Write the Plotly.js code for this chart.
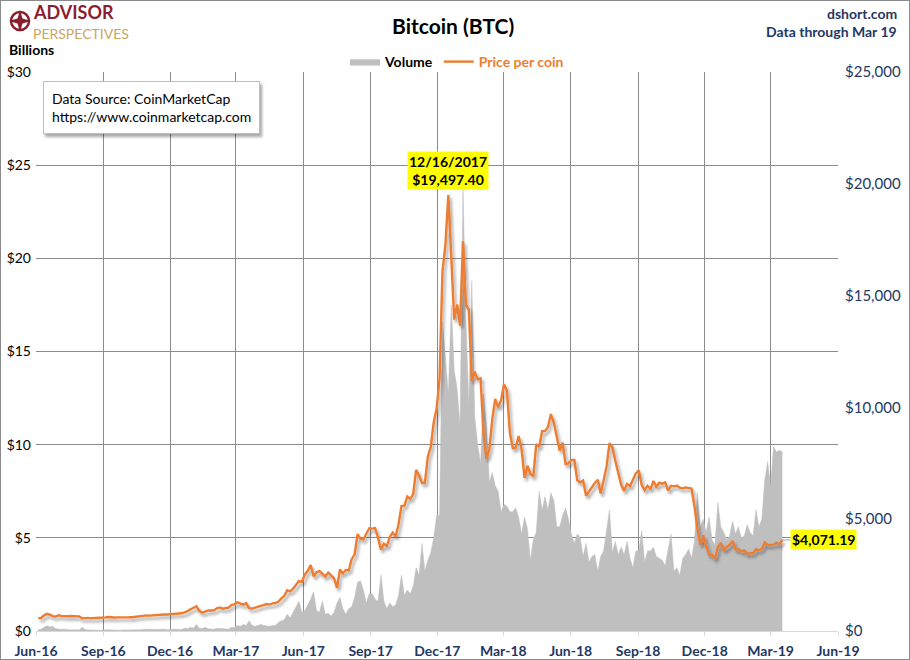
<!DOCTYPE html>
<html><head><meta charset="utf-8">
<script src="https://cdn.plot.ly/plotly-3.0.1.min.js"></script>
<style>
html,body{margin:0;padding:0;background:#fff;}
#wrap{position:relative;width:910px;height:660px;}
#chart{width:910px;height:660px;}
#frame{position:absolute;left:0;top:0;width:908px;height:658px;border:1px solid #8a8a8a;pointer-events:none;}
</style></head><body>
<div id="wrap"><div id="chart"></div><div id="frame"></div></div>
<script>
// ---- data (sampled every 4 days from startDate) ----
const startDate = '2016-06-04';
const stepDays = 4;
const pricePerCoin = [
 574,581,700,766,735,665,647,703,670,650,
 657,672,665,655,655,566,590,587,567,575,
 583,570,574,610,626,608,607,609,602,604,
 610,612,617,640,637,657,678,698,688,703,
 715,711,751,741,735,753,752,772,780,791,
 834,891,973,1021,1100,903,818,870,922,915,
 920,1011,1055,999,1009,1050,1172,1193,1283,1235,
 1180,1245,1020,1000,1046,1080,1141,1182,1207,1180,
 1238,1250,1317,1455,1573,1820,1772,1890,2043,2239,
 2191,2518,2691,2955,2445,2619,2682,2565,2434,2610,
 2502,2354,1929,2748,2575,2726,2710,3213,3420,4325,
 4133,4088,4352,4594,4579,4599,4162,3637,3907,3793,
 4208,4404,4225,4777,5591,5605,6011,5904,6131,7208,
 6955,6618,6636,7790,8233,9330,9946,11291,16099,17276,
 19497.4,16624,13925,14606,13657,17430,14595,14360,11180,11600,
 11256,11296,8830,7700,8130,9488,10384,10005,10326,11042,
 10730,8866,8174,8200,8720,8130,6845,7390,7023,6920,
 8358,8240,8940,8940,9120,9700,9325,8700,8070,8420,
 7470,7500,7650,7650,6740,6640,6730,6050,6250,6390,
 6620,6760,6150,6740,7350,8400,8220,7600,7040,6540,
 6260,6580,6480,6730,7050,7190,6530,6300,6500,6340,
 6710,6450,6630,6590,6650,6280,6490,6470,6500,6410,
 6380,6420,6410,6370,5590,4590,3850,4280,3820,3420,
 3410,3230,3750,3940,3630,3740,3860,4030,3660,3670,
 3560,3600,3450,3490,3470,3660,3610,3670,3960,3840,
 3860,3860,3950,3870,4071.19
];
const volumeBillions = [
 0.08,0.1,0.2,0.28,0.22,0.25,0.12,0.1,0.08,0.1,
 0.07,0.06,0.07,0.08,0.06,0.2,0.08,0.06,0.05,0.05,
 0.06,0.04,0.06,0.08,0.07,0.06,0.05,0.06,0.04,0.06,
 0.05,0.06,0.06,0.07,0.06,0.07,0.09,0.1,0.12,0.09,
 0.08,0.1,0.08,0.1,0.07,0.1,0.1,0.09,0.1,0.08,
 0.15,0.12,0.2,0.15,0.35,0.15,0.13,0.2,0.12,0.11,
 0.09,0.15,0.14,0.12,0.11,0.1,0.2,0.18,0.3,0.25,
 0.35,0.3,0.55,0.3,0.25,0.3,0.35,0.3,0.28,0.25,
 0.3,0.3,0.45,0.55,0.6,0.9,0.7,1.0,1.3,1.6,
 1.0,1.1,1.4,1.7,2.1,1.1,1.0,1.6,0.9,0.95,
 0.8,1.0,1.5,1.8,1.2,0.9,1.2,1.3,1.8,2.6,
 2.7,2.2,1.5,2.0,2.0,1.7,1.6,3.0,1.6,1.2,
 1.5,1.3,1.4,1.9,3.0,1.9,2.2,2.0,2.4,3.4,
 3.0,4.7,3.2,3.8,4.2,5.0,6.2,6.2,16.6,14.7,
 12.7,17.5,14.0,13.0,11.0,23.8,16.7,12.1,18.8,11.5,
 10.0,9.0,12.7,11.0,8.0,8.5,7.8,7.5,6.4,6.8,
 6.7,6.4,6.4,6.6,6.1,5.2,6.1,5.5,3.8,4.9,
 5.3,7.5,6.5,7.2,6.5,7.4,7.0,5.6,5.6,6.2,
 6.6,6.0,5.2,4.7,5.2,5.0,4.0,4.7,3.7,4.0,
 4.1,3.2,4.0,4.3,5.4,6.5,4.2,4.8,4.1,4.5,
 4.1,4.8,3.9,3.4,4.3,4.3,5.4,3.7,4.3,4.3,
 4.5,4.0,3.9,3.8,3.5,4.3,5.2,3.2,3.4,3.0,
 3.9,4.1,4.4,3.9,4.8,7.4,5.6,6.0,5.3,6.1,
 4.9,4.6,6.9,5.6,5.3,4.9,5.1,5.9,5.2,5.6,
 5.0,5.1,5.7,5.3,5.1,6.5,5.6,6.0,8.1,9.1,
 7.7,9.9,9.6,9.7,9.6
];
const xRange = ['2016-06-01','2019-06-01'];
const volumeTicks = [0,5,10,15,20,25,30];
const priceTicks = [0,5000,10000,15000,20000,25000];

// ---- build ----
const t0 = Date.parse(startDate + 'T00:00:00Z');
const dates = pricePerCoin.map((_, i) => new Date(t0 + i*stepDays*86400000).toISOString().slice(0,10));
let peakIdx = 0;
pricePerCoin.forEach((v,i)=>{ if (v > pricePerCoin[peakIdx]) peakIdx = i; });
const lastIdx = pricePerCoin.length - 1;
const fmtMoney = v => '$' + v.toLocaleString('en-US',{minimumFractionDigits:2, maximumFractionDigits:2});
const fmtDate = s => { const [y,m,d] = s.split('-'); return (+m) + '/' + (+d) + '/' + y; };

const FONT = 'Lato, "Open Sans", sans-serif';
const NAVY = '#1F3864';
const ORANGE = '#ED7D31';
// pixel -> paper helpers for decorations outside plot
const L = 36, R = 838, T = 72, B = 631;
const px = x => (x - L) / (R - L);
const py = y => (B - y) / (B - T);

const traces = [
  { x: dates, y: volumeBillions, type: 'scatter', mode: 'lines', fill: 'tozeroy',
    fillcolor: '#BFBFBF', line: {color: '#BFBFBF', width: 0.5}, name: '<b>Volume</b>',
    yaxis: 'y', hoverinfo: 'skip' },
  { x: dates, y: pricePerCoin, type: 'scatter', mode: 'lines',
    line: {color: ORANGE, width: 2.4}, name: '<span style="color:' + ORANGE + '"><b>Price per coin</b></span>',
    yaxis: 'y2', hoverinfo: 'skip' }
];

const starPts = [[20,10],[22.5,18.5],[31,21],[22.5,23.5],[20,32],[17.5,23.5],[9,21],[17.5,18.5]];
const starPath = 'M' + starPts.map(p => px(p[0]) + ',' + py(p[1])).join('L') + 'Z';

const layout = {
  width: 910, height: 660,
  margin: {l: L, r: 910 - R, t: T, b: 660 - B},
  paper_bgcolor: '#fff', plot_bgcolor: '#fff',
  font: {family: FONT, size: 13, color: '#000'},
  showlegend: true,
  legend: {orientation: 'h', x: px(457), y: py(62), xanchor: 'center', yanchor: 'middle',
           font: {family: FONT, size: 14, color: '#000'}, bgcolor: 'rgba(0,0,0,0)',
           itemwidth: 30, tracegroupgap: 0},
  xaxis: {type: 'date', range: xRange, tick0: '2016-06-01', dtick: 'M3', tickformat: '%b-%y',
          showgrid: true, gridcolor: '#8C8C8C', gridwidth: 1, zeroline: false,
          showline: true, linecolor: '#D9D9D9', ticks: 'outside', ticklen: 4, tickcolor: '#D9D9D9',
          ticklabelstandoff: 3,
          tickfont: {family: FONT, size: 14, color: NAVY, weight: 'bold'}},
  yaxis: {range: [0, 30], tickmode: 'array', tickvals: volumeTicks, ticktext: volumeTicks.map(v => '$' + v),
          showgrid: true, gridcolor: '#8C8C8C',
          gridwidth: 1, zeroline: false, showline: false, ticks: '', ticklabelstandoff: 4,
          tickfont: {family: FONT, size: 14, color: '#000'}},
  yaxis2: {range: [0, 25000], tickmode: 'array', tickvals: priceTicks,
           ticktext: priceTicks.map(v => '$' + v.toLocaleString('en-US')), overlaying: 'y',
           side: 'right', showgrid: false, zeroline: false, showline: false, ticks: '', ticklabelstandoff: 6,
           tickfont: {family: FONT, size: 15, color: NAVY}},
  shapes: [
    {type: 'circle', xref: 'paper', yref: 'paper', x0: px(11), x1: px(29), y0: py(12), y1: py(30),
     line: {color: '#8B1E2D', width: 2.5}, fillcolor: 'rgba(0,0,0,0)'},
    {type: 'path', xref: 'paper', yref: 'paper', path: starPath, fillcolor: '#8B1E2D', line: {width: 0}}
  ],
  annotations: [
    {xref: 'paper', yref: 'paper', x: px(43), y: py(81), xanchor: 'left', yanchor: 'top', align: 'left',
     text: 'Data Source: CoinMarketCap<br>https://www.coinmarketcap.com', showarrow: false,
     bgcolor: '#fff', bordercolor: '#BFBFBF', borderwidth: 1, borderpad: 8,
     font: {family: FONT, size: 14, color: '#000'}},
    {xref: 'paper', yref: 'paper', x: px(453), y: py(26), xanchor: 'center', yanchor: 'middle',
     text: '<b>Bitcoin (BTC)</b>', showarrow: false, font: {family: FONT, size: 21, color: '#000'}},
    {xref: 'paper', yref: 'paper', x: px(899), y: py(14), xanchor: 'right', yanchor: 'middle',
     text: '<b>dshort.com</b>', showarrow: false, font: {family: FONT, size: 14, color: NAVY}},
    {xref: 'paper', yref: 'paper', x: px(899), y: py(31), xanchor: 'right', yanchor: 'middle',
     text: '<b>Data through Mar 19</b>', showarrow: false, font: {family: FONT, size: 14, color: NAVY}},
    {xref: 'paper', yref: 'paper', x: px(7), y: py(49), xanchor: 'left', yanchor: 'middle',
     text: '<b>Billions</b>', showarrow: false, font: {family: FONT, size: 14, color: '#000'}},
    {xref: 'paper', yref: 'paper', x: px(32), y: py(24), xanchor: 'left', yanchor: 'bottom', borderpad: 0,
     text: '<b>ADVISOR</b>', showarrow: false, font: {family: FONT, size: 18, color: '#8B1E2D'}},
    {xref: 'paper', yref: 'paper', x: px(32), y: py(24), xanchor: 'left', yanchor: 'top', borderpad: 0,
     text: 'PERSPECTIVES', showarrow: false, font: {family: FONT, size: 14, color: '#C9A560'}},
    {xref: 'x', yref: 'y2', x: dates[peakIdx], y: pricePerCoin[peakIdx], xanchor: 'center', yanchor: 'bottom',
     yshift: 5, showarrow: false, bgcolor: '#FFFF00', borderpad: 1,
     text: '<b>' + fmtDate(dates[peakIdx]) + '<br>' + fmtMoney(pricePerCoin[peakIdx]) + '</b>',
     font: {family: FONT, size: 14, color: '#000'}},
    {xref: 'x', yref: 'y2', x: dates[lastIdx], y: pricePerCoin[lastIdx], xanchor: 'left', yanchor: 'middle',
     showarrow: true, arrowhead: 0, arrowwidth: 1, arrowcolor: '#A6A6A6', ax: 8, ay: 0,
     bgcolor: '#FFFF00', borderpad: 1, text: '<b>' + fmtMoney(pricePerCoin[lastIdx]) + '</b>',
     font: {family: FONT, size: 14, color: '#000'}}
  ]
};

Plotly.newPlot('chart', traces, layout, {staticPlot: true, displayModeBar: false}).then(gd => {
  const svg = gd.querySelector('.main-svg');
  const ns = 'http://www.w3.org/2000/svg';
  let defs = svg.querySelector('defs');
  if (!defs) { defs = document.createElementNS(ns, 'defs'); svg.insertBefore(defs, svg.firstChild); }
  const f = document.createElementNS(ns, 'filter');
  f.setAttribute('id', 'softShadow');
  f.setAttribute('x', '-10%'); f.setAttribute('y', '-10%');
  f.setAttribute('width', '130%'); f.setAttribute('height', '130%');
  const ds = document.createElementNS(ns, 'feDropShadow');
  ds.setAttribute('dx', '2'); ds.setAttribute('dy', '3'); ds.setAttribute('stdDeviation', '1.5');
  ds.setAttribute('flood-color', '#000'); ds.setAttribute('flood-opacity', '0.35');
  f.appendChild(ds); defs.appendChild(f);
  const tr = gd.querySelectorAll('.scatterlayer .trace');
  if (tr[1]) tr[1].querySelectorAll('path.js-line').forEach(p => p.setAttribute('filter', 'url(#softShadow)'));
  const ann = gd.querySelector('.annotation[data-index="0"] rect.bg');
  if (ann) ann.setAttribute('filter', 'url(#softShadow)');
});
</script>
</body></html>
